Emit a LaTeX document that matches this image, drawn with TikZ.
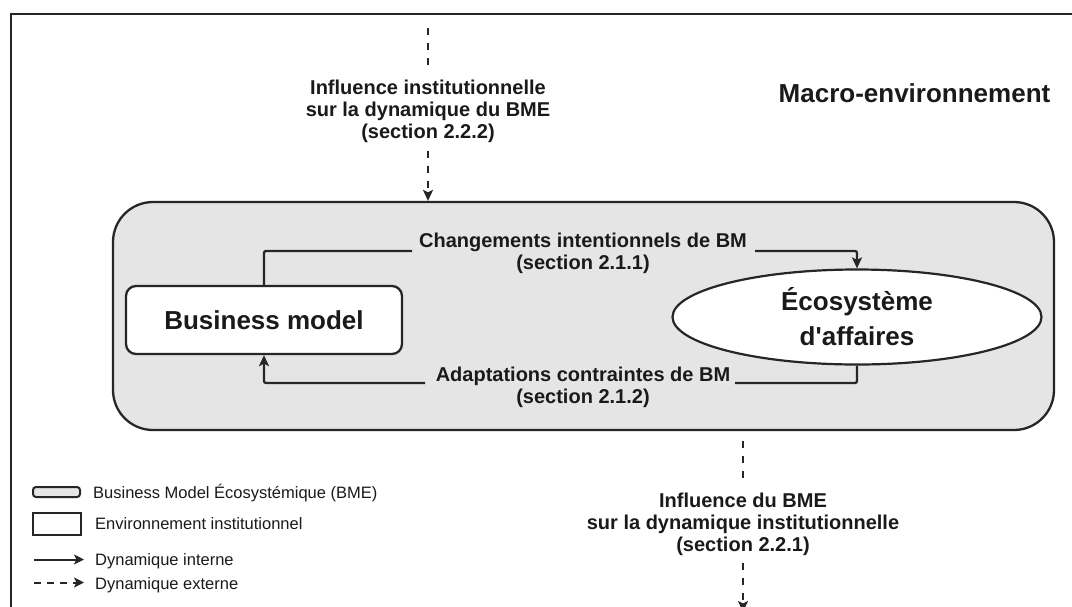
\documentclass[tikz,border=0pt]{standalone}
\usepackage{fontspec}
\setmainfont{Liberation Sans}
\usetikzlibrary{arrows.meta,shapes.geometric}
\definecolor{ln}{HTML}{262626}
\definecolor{bmefill}{HTML}{E5E5E5}
\definecolor{txt}{HTML}{1A1A1A}
\begin{document}
\begin{tikzpicture}[x=1pt,y=-1pt,
  tip/.style={-{Stealth[length=11pt,width=10pt,inset=2.5pt]}},
  ltip/.style={-{Stealth[length=10pt,width=10pt,inset=2.5pt]}},
  conn/.style={draw=ln,line width=2.3pt,rounded corners=2pt},
  dconn/.style={draw=ln,line width=2.5pt,dash pattern=on 7pt off 8pt},
  lbl/.style={text=txt,font=\fontsize{20}{22}\selectfont\bfseries,inner sep=0pt,align=center},
  leg/.style={text=txt,font=\fontsize{16.5}{19}\selectfont,inner sep=0pt,anchor=base west},
  legline/.style={draw=ln,line width=2pt},
]
\useasboundingbox (0,0) rectangle (1072,606);
\fill[white] (0,0) rectangle (1072,606);
% outer frame (macro-environment)
\coordinate (ftr) at (1085,14);
\coordinate (ftl) at (11,14);
\coordinate (fbl) at (11,620);
\draw[ln,line width=2.3pt] (ftr) -- (ftl) -- (fbl);

% BME box
\node[draw=ln,line width=2.3pt,fill=bmefill,rounded corners=40pt,minimum width=941pt,minimum height=228pt,inner sep=0pt] (bme) at (583.5,316) {};

% Business model
\node[draw=ln,line width=2.3pt,fill=white,rounded corners=10pt,minimum width=276pt,minimum height=68pt,inner sep=0pt,font=\fontsize{26}{30}\selectfont\bfseries,text=txt] (bm) at (264,320) {Business model};

% Ecosystem
\node[ellipse,draw=ln,line width=2.2pt,fill=white,minimum width=369pt,minimum height=95pt,inner sep=0pt,align=center,font=\fontsize{26}{35}\selectfont\bfseries,text=txt] (eco) at (857,317) {Écosystème\\d\textquotesingle affaires};

% internal labels
\node[lbl,anchor=base] (chg) at (583,247) {Changements intentionnels de BM};
\node[lbl,anchor=base] (chgs) at (583,269) {(section 2.1.1)};
\node[lbl,anchor=base] (adp) at (583,381) {Adaptations contraintes de BM};
\node[lbl,anchor=base] (adps) at (583,403) {(section 2.1.2)};

% internal connectors
\coordinate (a1) at (412,251);
\coordinate (a2) at (755,251);
\draw[conn] (bm.north) |- (a1);
\draw[conn,tip] (a2) -| (eco.north);
\coordinate (b1) at (735,383);
\coordinate (b2) at (425,383);
\draw[conn] (eco.south) |- (b1);
\draw[conn,tip] (b2) -| (bm.south);

% top influence
\node[lbl,anchor=north] (inf1) at (428,79.5) {Influence institutionnelle\\sur la dynamique du BME\\(section 2.2.2)};
\coordinate (inf1top) at (428,28);
\draw[dconn,shorten >=11pt] (inf1top) -- (inf1.north);
\draw[dconn,tip,shorten <=8pt] (inf1.south) -- (inf1.south |- bme.north);

% bottom influence
\node[lbl,anchor=north] (inf2) at (743,492.5) {Influence du BME\\sur la dynamique institutionnelle\\(section 2.2.1)};
\draw[dconn,shorten <=10pt,shorten >=11pt] (inf2.north |- bme.south) -- (inf2.north);
\coordinate (inf2end) at (743,612);
\draw[dconn,tip,shorten <=7pt] (inf2.south) -- (inf2end);

% macro label
\node[text=txt,font=\fontsize{26}{30}\selectfont\bfseries,inner sep=0pt,anchor=base] (macro) at (914.5,102) {Macro-environnement};

% legend
\node[legline,fill=bmefill,rounded corners=3pt,minimum width=47pt,minimum height=10pt,inner sep=0pt] (lg1) at (56.5,492) {};
\node[leg] (lt1) at (93,498) {Business Model Écosystémique (BME)};
\node[legline,fill=white,minimum width=48pt,minimum height=22pt,inner sep=0pt] (lg2) at (57,524) {};
\node[leg] (lt2) at (95,529.5) {Environnement institutionnel};
\coordinate (l3a) at (34,559.5);
\coordinate (l3b) at (84,559.5);
\draw[legline,ltip] (l3a) -- (l3b);
\node[leg] (lt3) at (95,565.5) {Dynamique interne};
\coordinate (l4a) at (34,582.5);
\coordinate (l4b) at (84,582.5);
\draw[legline,dash pattern=on 7pt off 6pt,ltip] (l4a) -- (l4b);
\node[leg] (lt4) at (95,589) {Dynamique externe};
\end{tikzpicture}
\end{document}
